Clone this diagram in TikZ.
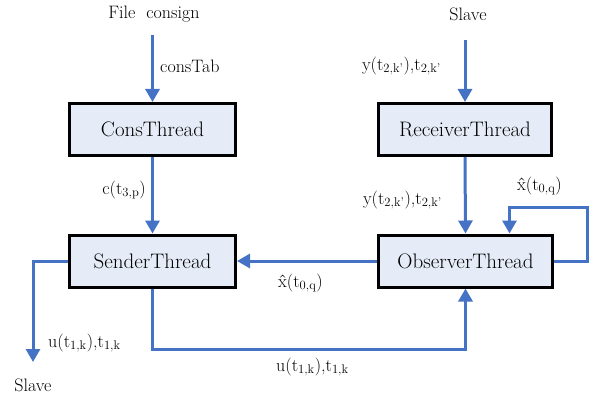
\documentclass[tikz,border=0pt]{standalone}
\usetikzlibrary{arrows.meta}

\definecolor{flowblue}{RGB}{68,114,196}
\definecolor{boxfill}{RGB}{230,236,247}

\newcommand{\tsub}[1]{\textsubscript{#1}}

\tikzset{
  thread/.style={draw=black, line width=3pt, fill=boxfill, minimum height=52pt,
    font=\fontsize{21}{24}\selectfont},
  flow/.style={draw=flowblue, line width=3pt, -{Triangle[length=13pt,width=14pt]}},
  lbl/.style={font=\fontsize{18}{20}\selectfont, inner sep=0pt}
}

\begin{document}
\begin{tikzpicture}[x=1pt,y=-1pt]
        \useasboundingbox (0,0) rectangle (593,398);

        % Threads
        \node[thread, minimum width=166pt] (cons) at (152.5,129.5) {ConsThread};
        \node[thread, minimum width=173pt] (recv) at (465,129.5) {ReceiverThread};
        \node[thread, minimum width=166pt] (sender) at (152.5,261) {SenderThread};
        \node[thread, minimum width=174pt] (obs) at (465.5,261) {ObserverThread};

        % Inputs on top
        \node[lbl] (fileLbl) at (154,14) {File\ \ consign};
        \node[lbl] (slaveTop) at (468,14) {Slave};
        \coordinate (fileIn) at (152.5,35);
        \coordinate (slaveIn) at (465,40);
        \draw[flow] (fileIn) -- (cons.north);
        \draw[flow] (slaveIn) -- (recv.north);
        \node[lbl, anchor=west] (consTabLbl) at (160,66) {consTab};
        \node[lbl, anchor=east] (yTop) at (441,66) {y(t\tsub{2,k'}),t\tsub{2,k'}};

        % Between threads
        \draw[flow] (cons.south) -- (sender.north);
        \draw[flow] (recv.south) -- (obs.north);
        \draw[flow] (obs.west) -- (sender.east);
        \node[lbl, anchor=east] (cLbl) at (146,190) {c(t\tsub{3,p})};
        \node[lbl, anchor=east] (yBot) at (442,200) {y(t\tsub{2,k'}),t\tsub{2,k'}};
        \node[lbl, anchor=west] (xBot) at (278,283) {\^{x}(t\tsub{0,q})};

        % Observer feedback
        \coordinate (loopA) at (587,207);
        \draw[flow] (obs.east) -| (loopA) -| ([xshift=44pt]obs.north);
        \node[lbl, anchor=west] (xTop) at (517,186) {\^{x}(t\tsub{0,q})};

        % Sender outputs
        \coordinate (slaveOut) at (33,362);
        \draw[flow] (sender.west) -| (slaveOut);
        \node[lbl, anchor=west] (uLeft) at (48,343) {u(t\tsub{1,k}),t\tsub{1,k}};
        \node[lbl] (slaveBot) at (33,385) {Slave};
        \draw[flow] (sender.south) -- ++(0,61) -| (obs.south);
        \node[lbl, anchor=west] (uBot) at (276,367) {u(t\tsub{1,k}),t\tsub{1,k}};
\end{tikzpicture}
\end{document}
